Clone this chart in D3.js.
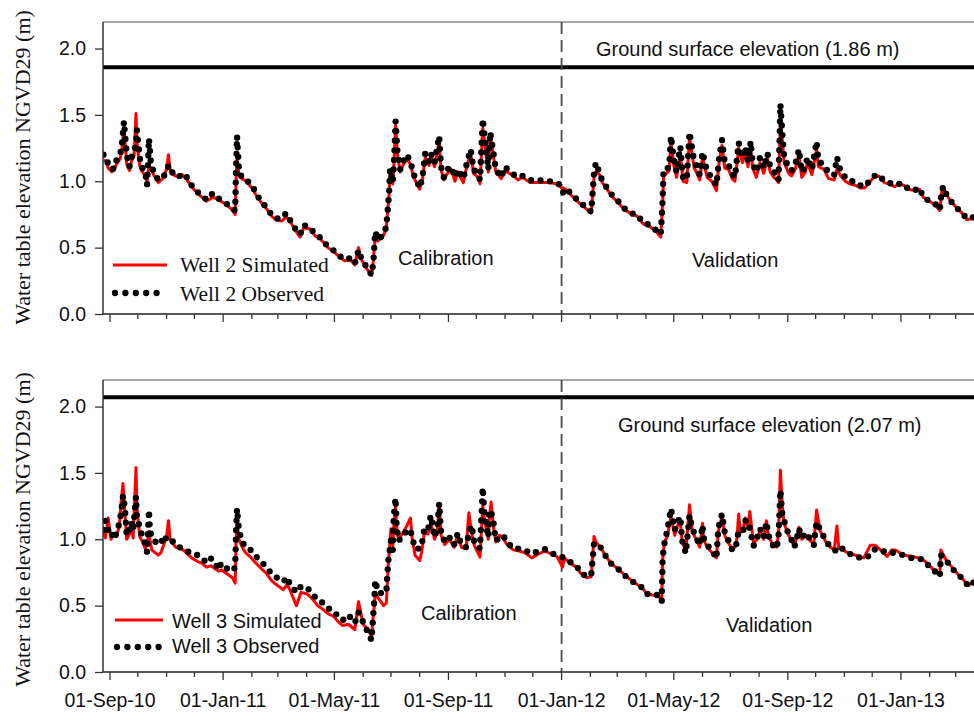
<!DOCTYPE html>
<html>
<head>
<meta charset="utf-8">
<script src="https://cdn.jsdelivr.net/npm/d3@7"></script>
<style>
  body { margin: 0; background: #fff; }
  svg { display: block; }
</style>
</head>
<body>
<svg id="chart" width="974" height="714"></svg>
<script>
// ---------------- Well 2 (water table elevation, m NGVD29) ----------------
const well2Dates = [
  "2010-08-25","2010-08-28","2010-08-30","2010-09-03","2010-09-06","2010-09-08","2010-09-12","2010-09-14","2010-09-15","2010-09-16","2010-09-18","2010-09-19","2010-09-22","2010-09-24","2010-09-27","2010-09-29","2010-09-30",
  "2010-10-03","2010-10-05","2010-10-09","2010-10-11","2010-10-13","2010-10-15","2010-10-18","2010-10-23","2010-10-28",
  "2010-11-01","2010-11-03","2010-11-05","2010-11-08","2010-11-14","2010-11-18","2010-11-23","2010-11-28",
  "2010-12-04","2010-12-09","2010-12-14","2010-12-21","2010-12-27",
  "2011-01-03","2011-01-10","2011-01-14","2011-01-15","2011-01-16","2011-01-18","2011-01-21","2011-01-26",
  "2011-02-02","2011-02-06","2011-02-11","2011-02-17","2011-02-22","2011-02-27",
  "2011-03-05","2011-03-10","2011-03-14","2011-03-19","2011-03-25","2011-03-29",
  "2011-04-05","2011-04-10","2011-04-15","2011-04-19","2011-04-24","2011-04-30",
  "2011-05-05","2011-05-12","2011-05-18","2011-05-23","2011-05-27","2011-05-30",
  "2011-06-05","2011-06-10","2011-06-12","2011-06-14","2011-06-17","2011-06-23","2011-06-26","2011-06-29","2011-06-30",
  "2011-07-03","2011-07-04","2011-07-06","2011-07-08","2011-07-11","2011-07-14","2011-07-18","2011-07-22","2011-07-25","2011-07-29",
  "2011-08-01","2011-08-04","2011-08-07","2011-08-11","2011-08-13","2011-08-17","2011-08-22","2011-08-24","2011-08-27","2011-08-31",
  "2011-09-04","2011-09-08","2011-09-11","2011-09-17","2011-09-21","2011-09-25","2011-09-28",
  "2011-10-03","2011-10-05","2011-10-08","2011-10-12","2011-10-14","2011-10-16","2011-10-19","2011-10-22","2011-10-28",
  "2011-11-01","2011-11-08","2011-11-15","2011-11-20","2011-11-28","2011-12-05","2011-12-12","2011-12-19","2011-12-27",
  "2012-01-01","2012-01-03","2012-01-07","2012-01-12","2012-01-21","2012-01-28",
  "2012-02-02","2012-02-05","2012-02-07","2012-02-11","2012-02-14","2012-02-20","2012-02-25",
  "2012-03-02","2012-03-08","2012-03-15","2012-03-22","2012-03-29",
  "2012-04-05","2012-04-12","2012-04-17","2012-04-19","2012-04-20","2012-04-23","2012-04-26","2012-04-28",
  "2012-05-01","2012-05-04","2012-05-08","2012-05-11","2012-05-15","2012-05-18","2012-05-23","2012-05-26","2012-05-29",
  "2012-06-01","2012-06-06","2012-06-11","2012-06-16","2012-06-19","2012-06-22","2012-06-25","2012-06-29",
  "2012-07-03","2012-07-06","2012-07-10","2012-07-14","2012-07-17","2012-07-20","2012-07-23","2012-07-25","2012-07-29",
  "2012-08-02","2012-08-06","2012-08-10","2012-08-13","2012-08-17","2012-08-20","2012-08-22","2012-08-24","2012-08-26","2012-08-28",
  "2012-09-02","2012-09-05","2012-09-09","2012-09-13","2012-09-16","2012-09-20","2012-09-22","2012-09-27",
  "2012-10-02","2012-10-04","2012-10-10","2012-10-15","2012-10-21","2012-10-24","2012-10-28",
  "2012-11-02","2012-11-07","2012-11-13","2012-11-18","2012-11-23","2012-11-29",
  "2012-12-03","2012-12-08","2012-12-14","2012-12-19","2012-12-25","2012-12-30",
  "2013-01-04","2013-01-09","2013-01-15","2013-01-21","2013-01-25",
  "2013-02-01","2013-02-07","2013-02-12","2013-02-14","2013-02-16","2013-02-19","2013-02-25",
  "2013-03-02","2013-03-08","2013-03-13","2013-03-19","2013-03-27"
];
const well2Observed = [
  1.20,1.19,1.125,1.09,1.10,1.16,1.20,1.29,1.37,1.45,1.29,1.20,1.11,1.18,1.22,1.29,1.39,
  1.18,1.11,1.07,0.97,1.32,1.14,1.07,1.01,1.03,
  1.07,1.12,1.09,1.06,1.03,1.06,1.03,0.97,
  0.92,0.90,0.86,0.91,0.87,
  0.84,0.80,0.78,1.12,1.34,1.09,1.03,1.01,
  0.96,0.90,0.85,0.80,0.75,0.72,
  0.72,0.76,0.71,0.65,0.60,0.67,
  0.65,0.60,0.58,0.545,0.51,0.48,
  0.445,0.41,0.42,0.38,0.48,0.42,
  0.35,0.295,0.385,0.62,0.56,0.60,0.66,0.91,1.09,
  0.99,1.11,1.45,1.22,1.09,1.15,1.20,1.15,1.06,1.00,
  0.95,1.03,1.21,1.15,1.21,1.14,1.34,1.11,1.03,1.09,
  1.11,1.03,1.09,1.02,1.14,1.24,1.09,
  1.05,1.01,1.47,1.21,1.09,1.37,1.24,1.09,1.03,
  1.11,1.06,1.03,1.04,1.01,1.00,1.01,1.00,0.99,
  0.96,0.91,0.94,0.90,0.84,0.80,
  0.77,1.06,1.14,1.06,1.00,0.94,0.89,
  0.85,0.80,0.76,0.75,0.69,
  0.67,0.63,0.60,0.86,1.09,1.09,1.11,1.34,
  1.16,1.07,1.26,1.03,1.01,1.37,1.15,1.11,1.05,
  1.22,1.07,1.03,0.97,1.18,1.31,1.14,1.125,
  1.06,1.03,1.29,1.18,1.26,1.15,1.30,1.14,1.07,
  1.18,1.10,1.21,1.11,1.07,1.05,1.01,1.58,1.37,1.18,
  1.10,1.08,1.125,1.24,1.07,1.11,1.18,1.09,
  1.30,1.15,1.125,1.06,1.05,1.18,1.07,
  1.03,1.00,1.00,0.97,0.96,1.01,
  1.04,1.05,1.00,0.99,0.97,0.98,
  0.98,0.94,0.93,0.95,0.88,
  0.85,0.83,0.785,0.935,0.96,0.90,0.84,
  0.80,0.76,0.72,0.73,0.71
];
const well2Simulated = [
  1.16,1.15,1.10,1.07,1.09,1.13,1.17,1.25,1.33,1.42,1.22,1.13,1.08,1.15,1.19,1.51,1.30,
  1.12,1.08,1.04,1.00,1.12,1.10,1.05,0.99,1.02,
  1.09,1.20,1.08,1.05,1.03,1.05,1.01,0.96,
  0.91,0.88,0.85,0.88,0.86,
  0.83,0.79,0.75,1.02,1.17,1.05,1.02,1.00,
  0.94,0.89,0.84,0.79,0.74,0.71,
  0.70,0.73,0.70,0.64,0.58,0.65,
  0.64,0.59,0.57,0.54,0.50,0.47,
  0.44,0.40,0.41,0.37,0.50,0.41,
  0.34,0.29,0.40,0.58,0.55,0.59,0.65,0.90,1.05,
  0.98,1.10,1.42,1.20,1.07,1.12,1.17,1.13,1.04,0.98,
  0.94,1.02,1.18,1.12,1.19,1.11,1.30,1.09,1.01,1.06,
  1.09,1.00,1.07,0.99,1.12,1.21,1.06,
  1.03,0.98,1.40,1.18,1.07,1.35,1.21,1.07,1.02,
  1.08,1.05,1.01,1.03,0.99,0.99,0.99,0.99,0.98,
  0.95,0.95,0.93,0.89,0.83,0.79,
  0.76,1.03,1.07,1.05,0.99,0.93,0.88,
  0.84,0.79,0.76,0.74,0.68,
  0.66,0.62,0.58,0.84,1.04,1.06,1.08,1.30,
  1.12,1.03,1.22,1.00,0.99,1.33,1.10,1.06,1.01,
  1.18,1.03,1.00,0.93,1.15,1.27,1.10,1.09,
  1.02,1.00,1.25,1.14,1.22,1.11,1.26,1.10,1.03,
  1.14,1.06,1.17,1.07,1.03,1.01,0.99,1.48,1.32,1.14,
  1.06,1.04,1.09,1.20,1.03,1.07,1.14,1.05,
  1.24,1.11,1.09,1.02,1.01,1.09,1.04,
  1.00,0.98,0.97,0.95,0.95,1.00,
  1.03,1.04,0.99,0.98,0.96,0.98,
  0.97,0.94,0.93,0.94,0.88,
  0.85,0.82,0.78,0.92,0.95,0.90,0.84,
  0.80,0.76,0.71,0.72,0.70
];

// ---------------- Well 3 (water table elevation, m NGVD29) ----------------
const well3Dates = [
  "2010-08-25","2010-08-27","2010-08-30","2010-09-02","2010-09-05","2010-09-08","2010-09-11","2010-09-13","2010-09-15","2010-09-17","2010-09-19","2010-09-22","2010-09-24","2010-09-26","2010-09-29","2010-09-30",
  "2010-10-03","2010-10-06","2010-10-09","2010-10-11","2010-10-13","2010-10-14","2010-10-16","2010-10-23","2010-10-26","2010-10-29",
  "2010-11-01","2010-11-03","2010-11-05","2010-11-11","2010-11-19","2010-11-28",
  "2010-12-05","2010-12-09","2010-12-14","2010-12-19","2010-12-23","2010-12-27","2010-12-30",
  "2011-01-05","2011-01-11","2011-01-14","2011-01-15","2011-01-16","2011-01-18","2011-01-21","2011-01-25","2011-01-30",
  "2011-02-04","2011-02-11","2011-02-17","2011-02-22","2011-02-27",
  "2011-03-07","2011-03-11","2011-03-14","2011-03-21","2011-03-26",
  "2011-04-01","2011-04-06","2011-04-13","2011-04-19","2011-04-24","2011-04-30",
  "2011-05-05","2011-05-10","2011-05-16","2011-05-23","2011-05-27",
  "2011-06-01","2011-06-06","2011-06-10","2011-06-13","2011-06-14","2011-06-17","2011-06-23","2011-06-26","2011-06-28",
  "2011-07-01","2011-07-03","2011-07-04","2011-07-06","2011-07-07","2011-07-09","2011-07-14","2011-07-18","2011-07-22","2011-07-24","2011-07-27",
  "2011-08-01","2011-08-03","2011-08-06","2011-08-10","2011-08-13","2011-08-17","2011-08-20","2011-08-22","2011-08-24","2011-08-28",
  "2011-09-02","2011-09-07","2011-09-11","2011-09-15","2011-09-20","2011-09-23","2011-09-26","2011-09-29",
  "2011-10-05","2011-10-08","2011-10-10","2011-10-14","2011-10-15","2011-10-17","2011-10-19","2011-10-22","2011-10-26","2011-10-30",
  "2011-11-03","2011-11-10","2011-11-17","2011-11-22","2011-11-30","2011-12-07","2011-12-14","2011-12-21","2011-12-27",
  "2012-01-02","2012-01-04","2012-01-10","2012-01-17","2012-01-22","2012-01-28",
  "2012-02-02","2012-02-05","2012-02-07","2012-02-12","2012-02-17","2012-02-23",
  "2012-03-03","2012-03-11","2012-03-20","2012-03-27",
  "2012-04-01","2012-04-08","2012-04-14","2012-04-18","2012-04-19","2012-04-21","2012-04-24","2012-04-28",
  "2012-05-02","2012-05-05","2012-05-08","2012-05-10","2012-05-14","2012-05-18","2012-05-21","2012-05-25","2012-05-29",
  "2012-06-01","2012-06-02","2012-06-06","2012-06-11","2012-06-16","2012-06-18","2012-06-22","2012-06-25","2012-06-29",
  "2012-07-03","2012-07-06","2012-07-08","2012-07-10","2012-07-12","2012-07-15","2012-07-17","2012-07-20","2012-07-22","2012-07-26","2012-07-30",
  "2012-08-02","2012-08-06","2012-08-09","2012-08-11","2012-08-16","2012-08-20","2012-08-22","2012-08-24","2012-08-26","2012-08-28","2012-08-31",
  "2012-09-04","2012-09-08","2012-09-11","2012-09-13","2012-09-16","2012-09-21","2012-09-25","2012-09-29",
  "2012-10-02","2012-10-06","2012-10-12","2012-10-17","2012-10-21","2012-10-24","2012-10-26","2012-10-28",
  "2012-11-04","2012-11-13","2012-11-22","2012-11-29",
  "2012-12-04","2012-12-10","2012-12-17","2012-12-22","2012-12-26",
  "2013-01-04","2013-01-14","2013-01-24","2013-01-31",
  "2013-02-05","2013-02-12","2013-02-13","2013-02-19","2013-02-25",
  "2013-03-03","2013-03-10","2013-03-15","2013-03-19","2013-03-27"
];
const well3Observed = [
  1.07,1.14,1.07,1.08,1.00,1.045,1.12,1.20,1.33,1.24,1.03,1.07,1.13,1.07,1.32,1.17,
  1.09,1.015,0.97,0.90,1.22,1.07,1.01,0.96,0.97,1.03,
  1.00,1.00,1.01,0.95,0.93,0.89,
  0.88,0.865,0.82,0.855,0.83,0.77,0.82,
  0.78,0.76,0.79,1.07,1.23,1.07,0.99,0.94,0.925,
  0.88,0.83,0.79,0.74,0.715,
  0.68,0.715,0.66,0.60,0.645,
  0.64,0.60,0.54,0.52,0.48,0.465,
  0.415,0.39,0.43,0.37,0.45,
  0.375,0.30,0.24,0.54,0.69,0.60,0.59,0.60,0.83,
  0.99,0.92,1.17,1.31,1.12,0.99,1.015,1.07,1.07,1.01,0.93,
  0.93,0.95,1.08,1.07,1.18,1.015,1.09,1.27,1.05,0.98,
  1.015,0.955,1.045,0.955,0.94,1.045,1.105,0.97,
  0.93,1.39,1.17,1.015,1.22,1.20,1.16,0.99,1.01,1.03,
  0.98,0.93,0.93,0.92,0.89,0.91,0.925,0.895,0.88,
  0.865,0.86,0.83,0.80,0.745,0.72,
  0.73,0.97,0.97,0.94,0.88,0.82,
  0.77,0.715,0.67,0.64,
  0.59,0.58,0.58,0.53,0.865,0.97,1.07,1.23,
  1.07,1.12,1.17,0.99,0.895,1.18,1.08,1.015,0.955,
  1.105,1.015,0.955,0.92,0.855,1.08,1.19,1.05,0.99,
  0.92,0.92,0.98,1.07,1.07,1.07,1.14,1.14,1.08,0.95,1.01,
  1.08,1.015,1.13,1.03,0.955,0.93,1.03,1.37,1.19,1.14,1.07,
  1.015,0.94,1.015,1.08,1.015,1.05,1.00,0.955,
  1.13,1.07,0.99,0.94,0.92,0.91,0.92,0.94,
  0.90,0.87,0.855,0.88,
  0.925,0.92,0.895,0.90,0.895,
  0.88,0.855,0.85,0.80,
  0.77,0.72,0.88,0.84,0.78,
  0.74,0.69,0.645,0.675,0.66
];
const well3Simulated = [
  1.06,1.01,1.16,1.00,1.04,1.02,1.10,1.28,1.42,1.20,1.00,1.04,1.10,1.01,1.54,1.25,
  1.02,0.98,0.93,0.96,1.06,1.00,0.92,0.88,0.90,0.96,
  1.02,1.14,0.99,0.94,0.92,0.86,
  0.83,0.82,0.79,0.80,0.78,0.76,0.77,
  0.74,0.71,0.67,1.00,1.12,1.00,0.95,0.90,0.87,
  0.83,0.78,0.74,0.69,0.66,
  0.62,0.66,0.62,0.50,0.60,
  0.59,0.56,0.50,0.47,0.44,0.42,
  0.38,0.35,0.36,0.32,0.53,
  0.36,0.32,0.27,0.50,0.60,0.56,0.50,0.52,0.80,
  1.08,0.95,1.10,1.25,1.10,1.00,1.05,1.10,1.16,1.00,0.88,
  0.84,0.90,1.05,1.04,1.12,1.00,1.06,1.27,1.03,0.96,
  1.00,0.94,1.03,0.94,0.93,1.20,1.05,0.95,
  0.865,1.25,1.14,1.00,1.15,1.28,1.12,0.98,1.03,1.01,
  0.96,0.92,0.91,0.90,0.86,0.89,0.91,0.89,0.87,
  0.79,0.86,0.82,0.79,0.74,0.71,
  0.72,1.02,0.98,0.94,0.88,0.82,
  0.77,0.72,0.67,0.64,
  0.60,0.58,0.57,0.55,0.85,0.98,1.02,1.17,
  1.03,1.10,1.14,0.98,0.91,1.26,1.06,1.00,0.94,
  1.12,1.00,0.94,0.90,0.86,1.06,1.17,1.03,0.97,
  0.93,0.94,1.00,1.19,1.05,1.08,1.16,1.08,1.21,0.97,1.00,
  1.06,1.00,1.14,1.02,0.96,0.94,1.05,1.52,1.26,1.12,1.06,
  1.00,0.95,1.03,1.09,1.00,1.03,0.99,0.96,
  1.22,1.06,0.98,0.94,0.92,1.10,0.93,0.93,
  0.90,0.88,0.86,0.955,
  0.955,0.92,0.87,0.92,0.92,
  0.88,0.87,0.85,0.81,
  0.77,0.73,0.92,0.84,0.79,
  0.74,0.69,0.65,0.68,0.66
];

// Axis ticks, reference levels and period split
const yTickValues = [0.0, 0.5, 1.0, 1.5, 2.0];
const majorTickDates = ["2010-09-01","2011-01-01","2011-05-01","2011-09-01","2012-01-01","2012-05-01","2012-09-01","2013-01-01"];
const groundElevations = [1.86, 2.07];
const calibrationEnd = "2012-01-01";

// ---------------- drawing ----------------
const parse = d3.utcParse("%Y-%m-%d");
const fmt = d3.utcFormat("%d-%b-%y");
const sans = "'Liberation Sans', Arial, Helvetica, sans-serif";
const serif = "'Liberation Serif', 'Times New Roman', Times, serif";

const svg = d3.select("#chart");
svg.append("rect").attr("width", 974).attr("height", 714).attr("fill", "#fff");

const plotLeft = 103, plotRight = 974;
const x = d3.scaleUtc()
  .domain([parse("2010-08-24"), parse("2013-04-01")])
  .range([102.6, 984.4]);

const panels = [
  {
    top: 22, bottom: 314, dates: well2Dates, obs: well2Observed, sim: well2Simulated,
    ground: groundElevations[0], showDateLabels: false,
    groundText: { x: 596, y: 56 }, calText: { x: 398, y: 265 }, valText: { x: 692, y: 267 },
    legend: { font: serif, size: 21.5, simY: 265, simTextY: 272, obsY: 293, obsTextY: 301,
              lineX0: 113, lineX1: 167, textX: 180, names: ["Well 2 Simulated", "Well 2 Observed"] }
  },
  {
    top: 380, bottom: 672, dates: well3Dates, obs: well3Observed, sim: well3Simulated,
    ground: groundElevations[1], showDateLabels: true,
    groundText: { x: 618, y: 432 }, calText: { x: 421, y: 620 }, valText: { x: 726, y: 632 },
    legend: { font: sans, size: 20, simY: 620, simTextY: 628, obsY: 647, obsTextY: 653,
              lineX0: 115, lineX1: 163, textX: 172, names: ["Well 3 Simulated", "Well 3 Observed"] }
  }
];

const majorSet = new Set(majorTickDates);
const monthTicks = d3.utcMonth.range(parse("2010-09-01"), parse("2013-04-02"));
const fmtIso = d3.utcFormat("%Y-%m-%d");

panels.forEach((p, i) => {
  const y = d3.scaleLinear().domain([0, 2.2]).range([p.bottom, p.top]);
  const g = svg.append("g");

  const clipId = "clip" + i;
  svg.append("clipPath").attr("id", clipId)
    .append("rect").attr("x", plotLeft).attr("y", p.top)
    .attr("width", plotRight - plotLeft).attr("height", p.bottom - p.top);

  // frame: top border
  g.append("line").attr("x1", plotLeft).attr("x2", plotRight).attr("y1", p.top).attr("y2", p.top)
    .attr("stroke", "#555").attr("stroke-width", 1.2);

  // ground surface reference line
  g.append("line")
    .attr("x1", plotLeft).attr("x2", plotRight)
    .attr("y1", y(p.ground)).attr("y2", y(p.ground))
    .attr("stroke", "#000").attr("stroke-width", 4);

  // calibration / validation split
  g.append("line")
    .attr("x1", x(parse(calibrationEnd))).attr("x2", x(parse(calibrationEnd)))
    .attr("y1", p.top).attr("y2", p.bottom)
    .attr("stroke", "#4a4a4a").attr("stroke-width", 1.8).attr("stroke-dasharray", "12,6");

  // series
  const rows = p.dates.map((d, k) => ({ date: parse(d), obs: p.obs[k], sim: p.sim[k] }));
  const data = g.append("g").attr("clip-path", `url(#${clipId})`);
  data.append("path")
    .attr("d", d3.line().x(d => x(d.date)).y(d => y(d.sim))(rows))
    .attr("fill", "none").attr("stroke", "#ff0000").attr("stroke-width", 3)
    .attr("stroke-linejoin", "round");
  data.append("path")
    .attr("d", d3.line().x(d => x(d.date)).y(d => y(d.obs))(rows))
    .attr("fill", "none").attr("stroke", "#000").attr("stroke-width", 6.3)
    .attr("stroke-linecap", "round").attr("stroke-linejoin", "round")
    .attr("stroke-dasharray", "0,9.6");

  // y axis
  const yAxis = d3.axisLeft(y).tickValues(yTickValues).tickFormat(d3.format(".1f"))
    .tickSizeInner(8).tickSizeOuter(0).tickPadding(9);
  const ya = g.append("g").attr("transform", `translate(${plotLeft},0)`).call(yAxis);
  ya.select(".domain").attr("stroke", "#333").attr("stroke-width", 1.5)
    .attr("d", `M0,${p.top}V${p.bottom}`);
  ya.selectAll(".tick line").attr("stroke", "#333").attr("stroke-width", 1.3);
  ya.selectAll(".tick text").attr("font-family", sans).attr("font-size", 19.5).attr("fill", "#111");

  // x axis: monthly minor ticks, 4-monthly major ticks
  const xg = g.append("g");
  xg.append("line").attr("x1", plotLeft).attr("x2", plotRight)
    .attr("y1", p.bottom).attr("y2", p.bottom).attr("stroke", "#222").attr("stroke-width", 1.5);
  xg.selectAll("line.tick").data(monthTicks).join("line")
    .attr("class", "tick")
    .attr("x1", d => x(d)).attr("x2", d => x(d))
    .attr("y1", p.bottom)
    .attr("y2", d => p.bottom + (majorSet.has(fmtIso(d)) ? 8 : 5))
    .attr("stroke", "#333").attr("stroke-width", 1.3);
  if (p.showDateLabels) {
    xg.selectAll("text.tl").data(majorTickDates.map(parse)).join("text")
      .attr("class", "tl")
      .attr("x", d => x(d)).attr("y", 707)
      .attr("text-anchor", "middle")
      .attr("font-family", sans).attr("font-size", 19.5).attr("fill", "#111")
      .text(d => fmt(d));
  }

  // annotations
  g.append("text").attr("x", p.groundText.x).attr("y", p.groundText.y)
    .attr("font-family", sans).attr("font-size", 20).attr("fill", "#111")
    .text(`Ground surface elevation (${p.ground.toFixed(2)} m)`);
  g.append("text").attr("x", p.calText.x).attr("y", p.calText.y)
    .attr("font-family", sans).attr("font-size", 20).attr("fill", "#111").text("Calibration");
  g.append("text").attr("x", p.valText.x).attr("y", p.valText.y)
    .attr("font-family", sans).attr("font-size", 20).attr("fill", "#111").text("Validation");

  // legend
  const L = p.legend;
  g.append("line").attr("x1", L.lineX0).attr("x2", L.lineX1).attr("y1", L.simY).attr("y2", L.simY)
    .attr("stroke", "#ff0000").attr("stroke-width", 3);
  g.append("line").attr("x1", L.lineX0 + 2).attr("x2", L.lineX0 + 45).attr("y1", L.obsY).attr("y2", L.obsY)
    .attr("stroke", "#000").attr("stroke-width", 6.3).attr("stroke-linecap", "round")
    .attr("stroke-dasharray", "0,10.4");
  g.append("text").attr("x", L.textX).attr("y", L.simTextY)
    .attr("font-family", L.font).attr("font-size", L.size).attr("fill", "#111").text(L.names[0]);
  g.append("text").attr("x", L.textX).attr("y", L.obsTextY)
    .attr("font-family", L.font).attr("font-size", L.size).attr("fill", "#111").text(L.names[1]);

  // y axis title
  svg.append("text")
    .attr("transform", `translate(30,${(p.top + p.bottom) / 2 - 0.5 + (i ? 4 : 0)}) rotate(-90)`)
    .attr("text-anchor", "middle")
    .attr("font-family", serif).attr("font-size", 22).attr("fill", "#111")
    .text("Water table elevation NGVD29 (m)");
});
</script>
</body>
</html>
